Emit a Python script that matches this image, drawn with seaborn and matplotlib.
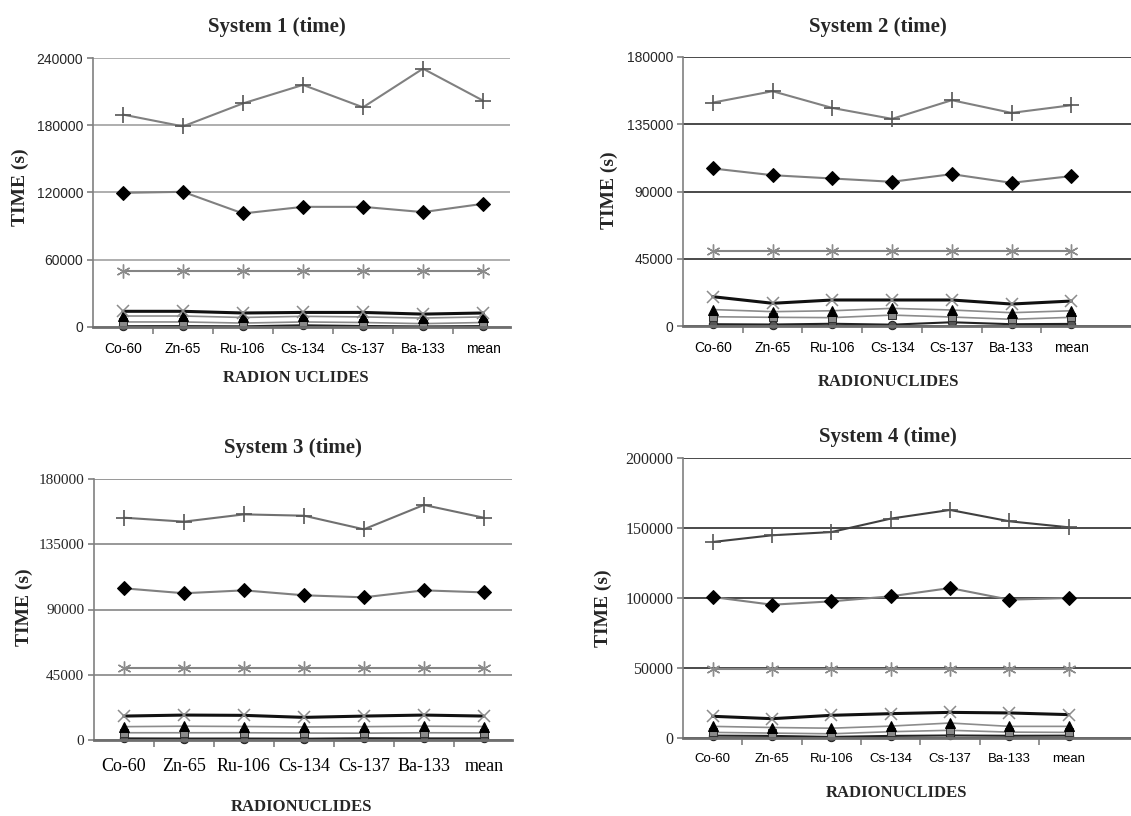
import matplotlib
matplotlib.use("Agg")
import matplotlib.pyplot as plt
import seaborn as sns
from matplotlib.ticker import FixedLocator

# ---- data ----
nuclides = ["Co-60", "Zn-65", "Ru-106", "Cs-134", "Cs-137", "Ba-133", "mean"]

s1_plus = [189500, 179000, 199500, 216000, 196000, 230500, 202000]
s1_diamond = [119700, 120600, 101300, 107200, 107200, 102500, 109900]
s1_star = [50000, 50000, 50000, 50000, 50000, 50000, 50000]
s1_cross = [14000, 14000, 12500, 13000, 13000, 11500, 12500]
s1_triangle = [9800, 9800, 8500, 9500, 9000, 8000, 9000]
s1_square = [4500, 4500, 3500, 4500, 4000, 3000, 4000]
s1_circle = [700, 800, 600, 1500, 900, 500, 800]
s1_yticks = [0, 60000, 120000, 180000, 240000]

s2_plus = [149500, 157100, 145900, 138600, 151100, 142600, 147700]
s2_diamond = [105400, 100900, 98700, 96500, 101600, 95800, 100300]
s2_star = [50000, 50000, 50000, 50000, 50000, 50000, 50000]
s2_cross = [19600, 15200, 17400, 17400, 17400, 14700, 16700]
s2_triangle = [11000, 9600, 10200, 11800, 10700, 8900, 10200]
s2_square = [6200, 5800, 5600, 7300, 6000, 4500, 5800]
s2_circle = [1200, 1000, 1500, 900, 2500, 1200, 1400]
s2_yticks = [0, 45000, 90000, 135000, 180000]

s3_plus = [153300, 150600, 155600, 154700, 145300, 162100, 153300]
s3_diamond = [104600, 101200, 103200, 99800, 98400, 103200, 101800]
s3_star = [50000, 50000, 50000, 50000, 50000, 50000, 50000]
s3_cross = [16500, 17200, 17000, 15600, 16500, 17200, 16500]
s3_triangle = [9200, 9500, 9300, 9000, 9200, 9500, 9300]
s3_square = [5000, 5000, 5000, 4800, 4700, 5000, 4900]
s3_circle = [1100, 1000, 1000, 900, 1200, 1100, 1100]
s3_yticks = [0, 45000, 90000, 135000, 180000]

s4_plus = [140000, 144800, 147100, 156700, 162900, 154800, 150500]
s4_diamond = [100700, 95200, 97600, 101200, 107100, 98800, 100000]
s4_star = [49500, 49500, 49500, 49500, 49500, 49500, 49500]
s4_cross = [15500, 13800, 16200, 17400, 18300, 17900, 16700]
s4_triangle = [8300, 7500, 7000, 8500, 10700, 8300, 8300]
s4_square = [4000, 3500, 3000, 4500, 5500, 4200, 4000]
s4_circle = [1700, 1500, 800, 1500, 1800, 1600, 1700]
s4_yticks = [0, 50000, 100000, 150000, 200000]

sns.set_style("white")
SANS = "Liberation Sans"
SERIF = "Liberation Serif"
plt.rcParams["font.family"] = [SANS, "DejaVu Sans"]

W, H = 1131, 816
fig = plt.figure(figsize=(W / 100, H / 100), dpi=100)


def px_axes(left, top, right, bottom):
    return fig.add_axes([left / W, 1 - bottom / H, (right - left) / W, (bottom - top) / H])


def draw_panel(ax, series, yticks, xmax, grid_color, plus_color,
               xfont, xsize, xpad, yfont, ysize):
    plus, diamond, star, cross, triangle, square, circle = series
    # low series first so the upper ones sit on top
    sns.lineplot(x=nuclides, y=circle, ax=ax, sort=False, color="#222222", lw=1.5,
                 marker="o", ms=6, mfc="#555555", mec="#222222", clip_on=False)
    sns.lineplot(x=nuclides, y=square, ax=ax, sort=False, color="#8c8c8c", lw=1.2,
                 marker="s", ms=5.5, mfc="#8a8a8a", mec="#333333", clip_on=False)
    sns.lineplot(x=nuclides, y=triangle, ax=ax, sort=False, color="#8c8c8c", lw=1.2,
                 marker="^", ms=6.5, mfc="black", mec="black", clip_on=False)
    sns.lineplot(x=nuclides, y=cross, ax=ax, sort=False, color="#111111", lw=2.2,
                 marker="x", ms=8, mec="#8c8c8c", mew=1.1, clip_on=False)
    sns.lineplot(x=nuclides, y=star, ax=ax, sort=False, color="#858585", lw=1.5,
                 marker=(6, 2, 0), ms=10, mec="#8c8c8c", mew=1.0, clip_on=False)
    sns.lineplot(x=nuclides, y=diamond, ax=ax, sort=False, color="#808080", lw=1.5,
                 marker="D", ms=7, mfc="black", mec="black", clip_on=False)
    sns.lineplot(x=nuclides, y=plus, ax=ax, sort=False, color=plus_color, lw=1.5,
                 marker="+", ms=11, mec="#555555", mew=1.2, clip_on=False)

    ax.set_xlim(-0.5, xmax)
    ax.set_ylim(yticks[0], yticks[-1])
    ax.set_yticks(yticks)
    ax.set_yticklabels([str(v) for v in yticks])
    ax.set_xticks(range(len(nuclides)))
    ax.set_xticklabels(nuclides)
    ax.xaxis.set_minor_locator(FixedLocator([i + 0.5 for i in range(len(nuclides) - 1)]))

    ax.yaxis.grid(True, color=grid_color, lw=1.3)
    ax.xaxis.grid(False)
    ax.set_axisbelow(True)
    sns.despine(ax=ax)
    ax.spines["left"].set_color("#808080")
    ax.spines["left"].set_linewidth(1.2)
    ax.spines["bottom"].set_color("#6e6e6e")
    ax.spines["bottom"].set_linewidth(2)

    ax.tick_params(axis="x", which="major", bottom=True, length=0, pad=xpad,
                   labelsize=xsize, labelcolor="black")
    ax.tick_params(axis="x", which="minor", bottom=True, length=5, width=1.2,
                   color="#808080", direction="out")
    ax.tick_params(axis="y", left=True, length=4, width=1.2, color="#808080",
                   direction="out", pad=3, labelsize=ysize)
    for lbl in ax.get_xticklabels():
        lbl.set_fontfamily(xfont)
    for lbl in ax.get_yticklabels():
        lbl.set_fontfamily(yfont)
    ax.set_xlabel("")
    ax.set_ylabel("")


ax1 = px_axes(93, 58, 510, 327)
draw_panel(ax1, [s1_plus, s1_diamond, s1_star, s1_cross, s1_triangle, s1_square, s1_circle],
           s1_yticks, 6.45, "#a8a8a8", "#808080", SANS, 10, 11, SANS, 10)

ax2 = px_axes(683, 57, 1131, 326)
draw_panel(ax2, [s2_plus, s2_diamond, s2_star, s2_cross, s2_triangle, s2_square, s2_circle],
           s2_yticks, 7.0, "#3c3c3c", "#808080", SANS, 10, 11, SANS, 10)

ax3 = px_axes(94, 479, 512, 740)
draw_panel(ax3, [s3_plus, s3_diamond, s3_star, s3_cross, s3_triangle, s3_square, s3_circle],
           s3_yticks, 6.47, "#909090", "#707070", SERIF, 13, 13, SERIF, 11)

ax4 = px_axes(683, 458, 1131, 738)
draw_panel(ax4, [s4_plus, s4_diamond, s4_star, s4_cross, s4_triangle, s4_square, s4_circle],
           s4_yticks, 7.05, "#3c3c3c", "#404040", SANS, 9.5, 11, SERIF, 11.5)

# titles and axis labels placed in figure pixels
titles = [("System 1 (time)", 277, 27), ("System 2 (time)", 878, 27),
          ("System 3 (time)", 293, 448), ("System 4 (time)", 888, 437)]
for text, x, y in titles:
    fig.text(x / W, 1 - y / H, text, ha="center", va="center",
             family=SERIF, fontweight="bold", fontsize=15)

ylabels = [(20, 187), (609, 190), (24, 607), (603, 608)]
for x, y in ylabels:
    fig.text(x / W, 1 - y / H, "TIME (s)", ha="center", va="center", rotation=90,
             family=SERIF, fontweight="bold", fontsize=14)

xlabels = [("RADION UCLIDES", 296, 378), ("RADIONUCLIDES", 889, 382),
           ("RADIONUCLIDES", 302, 807), ("RADIONUCLIDES", 897, 793)]
for text, x, y in xlabels:
    fig.text(x / W, 1 - y / H, text, ha="center", va="center",
             family=SERIF, fontweight="bold", fontsize=12)

fig.savefig("out.png", dpi=100)
